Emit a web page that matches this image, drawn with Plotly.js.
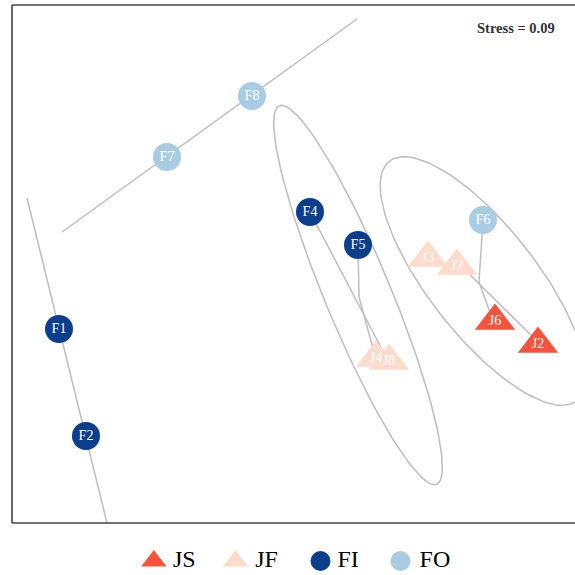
<!DOCTYPE html>
<html><head><meta charset="utf-8">
<script src="https://cdn.plot.ly/plotly-3.0.1.min.js"></script>
<style>html,body{margin:0;padding:0;background:#fff;overflow:hidden}</style>
</head><body><div id="chart" style="width:575px;height:575px"></div>
<script>
// ---- data (NMDS coordinates) ----
const groups = ['JS', 'JF', 'FI', 'FO'];

const jsLabels = ['J6', 'J2'];
const jsX = [0.780, 0.952];
const jsY = [-0.228, -0.320];

const jfLabels = ['J3', 'J7', 'J4', 'J8'];
const jfX = [0.512, 0.628, 0.304, 0.356];
const jfY = [0.024, -0.008, -0.376, -0.388];

const fiLabels = ['F1', 'F2', 'F4', 'F5'];
const fiX = [-0.964, -0.856, 0.040, 0.232];
const fiY = [-0.260, -0.688, 0.208, 0.076];

const foLabels = ['F6', 'F7', 'F8'];
const foX = [0.732, -0.532, -0.192];
const foY = [0.176, 0.428, 0.672];

// connecting segments
const segX0 = [0.040, 0.232, 0.236, 0.732, 0.716, 0.628];
const segY0 = [0.208, 0.076, -0.132, 0.176, -0.072, 0.008];
const segX1 = [0.344, 0.236, 0.296, 0.716, 0.768, 0.952];
const segY1 = [-0.372, -0.132, -0.352, -0.072, -0.216, -0.312];

// straight fitted lines
const fitX0 = [-1.092, -0.952];
const fitY0 = [0.264, 0.128];
const fitX1 = [-0.772, 0.228];
const fitY1 = [-1.036, 0.980];

// ellipses: centre, semi-axes, rotation (deg)
const ellCx = [0.232, 0.732];
const ellCy = [-0.124, -0.068];
const ellA = [0.820, 0.608];
const ellB = [0.132, 0.216];
const ellAngle = [-67.45, -52.0];

const stress = 0.09;

// ---- styles ----
const colors = {JS: '#F5533B', JF: '#FDDCCC', FI: '#0B3F8D', FO: '#A9CCE2'};
const symbols = {JS: 'triangle-up', JF: 'triangle-up', FI: 'circle', FO: 'circle'};
const gray = '#BDBDBD';
const serif = 'Liberation Serif, Times New Roman, serif';

const traces = [];

// fitted lines
const fx = [], fy = [];
for (let i = 0; i < fitX0.length; i++) { fx.push(fitX0[i], fitX1[i], null); fy.push(fitY0[i], fitY1[i], null); }
traces.push({x: fx, y: fy, mode: 'lines', line: {color: gray, width: 1.5}, hoverinfo: 'skip', showlegend: false});

// ellipses
const ex = [], ey = [];
for (let k = 0; k < ellCx.length; k++) {
  const phi = ellAngle[k] * Math.PI / 180;
  for (let i = 0; i <= 120; i++) {
    const t = 2 * Math.PI * i / 120;
    const ca = ellA[k] * Math.cos(t), sb = ellB[k] * Math.sin(t);
    ex.push(ellCx[k] + ca * Math.cos(phi) - sb * Math.sin(phi));
    ey.push(ellCy[k] + ca * Math.sin(phi) + sb * Math.cos(phi));
  }
  ex.push(null); ey.push(null);
}
traces.push({x: ex, y: ey, mode: 'lines', line: {color: gray, width: 1.5}, hoverinfo: 'skip', showlegend: false});

// segments
const sx = [], sy = [];
for (let i = 0; i < segX0.length; i++) { sx.push(segX0[i], segX1[i], null); sy.push(segY0[i], segY1[i], null); }
traces.push({x: sx, y: sy, mode: 'lines', line: {color: gray, width: 1.5}, hoverinfo: 'skip', showlegend: false});

function pts(name, xs, ys, labels) {
  const tri = symbols[name] === 'triangle-up';
  return {x: xs, y: ys, text: labels, name: name, mode: 'markers+text', textposition: 'middle center',
    marker: {symbol: symbols[name], size: tri ? 35 : 28, color: colors[name], opacity: 1, line: {width: 0}},
    textfont: {family: serif, size: 14, color: '#FFFFFF'}, showlegend: false, cliponaxis: false};
}
traces.push(pts('FO', foX, foY, foLabels));
traces.push(pts('FI', fiX, fiY, fiLabels));
traces.push(pts('JF', jfX, jfY, jfLabels));
traces.push(pts('JS', jsX, jsY, jsLabels));

// custom legend on an auxiliary axis
const legMarkX = [0.252, 0.397, 0.548, 0.690];
const legTextX = [0.286, 0.432, 0.578, 0.724];
traces.push({x: legMarkX, y: groups.map(() => 0.27), xaxis: 'x2', yaxis: 'y2', mode: 'markers',
  marker: {symbol: groups.map(g => symbols[g]), size: groups.map(g => symbols[g] === 'circle' ? 20 : 22),
    color: groups.map(g => colors[g]), opacity: 1, line: {width: 0}}, hoverinfo: 'skip', showlegend: false, cliponaxis: false});
traces.push({x: legTextX, y: groups.map(() => 0.27), xaxis: 'x2', yaxis: 'y2', mode: 'text', text: groups,
  textposition: 'middle right', textfont: {family: serif, size: 24, color: '#000'}, hoverinfo: 'skip', showlegend: false, cliponaxis: false});

const yb = 52 / 570;
const layout = {
  width: 575, height: 575,
  margin: {l: 12, r: 0, t: 5, b: 0},
  paper_bgcolor: '#fff', plot_bgcolor: '#fff',
  showlegend: false,
  xaxis: {range: [-1.152, 1.1], domain: [0, 1], showgrid: false, zeroline: false, showticklabels: false, ticks: '', showline: false, fixedrange: true},
  yaxis: {range: [-1.036, 1.036], domain: [yb, 1], showgrid: false, zeroline: false, showticklabels: false, ticks: '', showline: false, fixedrange: true},
  xaxis2: {range: [0, 1], domain: [0, 1], anchor: 'y2', visible: false, fixedrange: true},
  yaxis2: {range: [0, 1], domain: [0, yb], anchor: 'x2', visible: false, fixedrange: true},
  shapes: [
    {type: 'line', xref: 'paper', yref: 'paper', x0: 0, x1: 0, y0: yb, y1: 1, line: {color: '#444', width: 1.6}},
    {type: 'line', xref: 'paper', yref: 'paper', x0: 0, x1: 1.05, y0: 1, y1: 1, line: {color: '#444', width: 1.6}},
    {type: 'line', xref: 'paper', yref: 'paper', x0: 0, x1: 1.05, y0: yb, y1: yb, line: {color: '#444', width: 1.6}}
  ],
  annotations: [{xref: 'paper', yref: 'paper', x: 0.968, y: (575 - 28) / 570, xanchor: 'right', yanchor: 'middle',
    text: '<b>Stress = ' + stress.toFixed(2) + '</b>', showarrow: false, font: {family: serif, size: 14.5, color: '#333'}}]
};

Plotly.newPlot('chart', traces, layout, {displayModeBar: false, staticPlot: true});
</script>
</body></html>
